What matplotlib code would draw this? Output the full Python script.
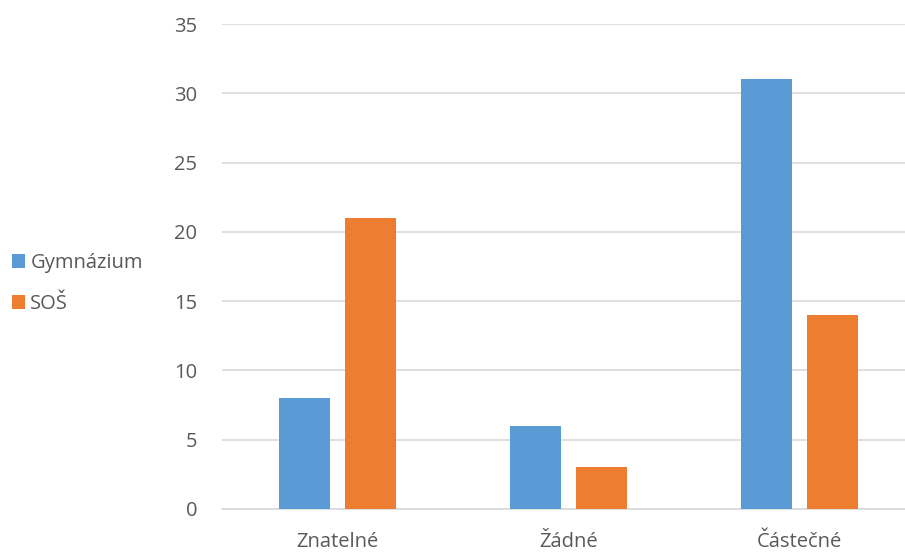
import matplotlib
matplotlib.use("Agg")
import matplotlib.pyplot as plt
import numpy as np

categories = ["Znatelné", "Žádné", "Částečné"]
series_names = ["Gymnázium", "SOŠ"]
gymnazium = [8, 6, 31]
sos = [21, 3, 14]
yticks = [0, 5, 10, 15, 20, 25, 30, 35]

colors = ["#5B9BD5", "#ED7D31"]
text_color = "#595959"
grid_color = "#D9D9D9"

plt.rcParams["font.family"] = ["Open Sans", "DejaVu Sans"]

fig = plt.figure(figsize=(9.05, 5.54), dpi=100)
W, H = 905, 554
ax = fig.add_axes([222 / W, (H - 509) / H, 693 / W, (509 - 24) / H])

x = np.arange(len(categories))
bw = 0.22
off = 0.143
b1 = ax.bar(x - off, gymnazium, bw, color=colors[0], label=series_names[0], zorder=3)
b2 = ax.bar(x + off, sos, bw, color=colors[1], label=series_names[1], zorder=3)

ax.set_xlim(-0.5, len(categories) - 0.5)
ax.set_ylim(0, 35)
ax.set_yticks(yticks)
ax.set_xticks(x)
ax.set_xticklabels(categories)
ax.yaxis.grid(True, color=grid_color, linewidth=1.2, zorder=0)
ax.set_axisbelow(True)
for s in ["top", "right", "left"]:
    ax.spines[s].set_visible(False)
ax.spines["bottom"].set_color(grid_color)
ax.spines["bottom"].set_linewidth(1.2)
ax.tick_params(axis="both", length=0, labelsize=14.5, colors=text_color)
ax.tick_params(axis="y", pad=18)
ax.tick_params(axis="x", pad=16.5)

leg = fig.legend(handles=[b1, b2], labels=series_names, loc="upper left",
                 bbox_to_anchor=(-6 / W, (H - 235) / H), frameon=False,
                 fontsize=14.5, handlelength=0.65, handleheight=0.65,
                 handletextpad=0.25, labelspacing=1.05, labelcolor=text_color)

fig.savefig("out.png", dpi=100)
